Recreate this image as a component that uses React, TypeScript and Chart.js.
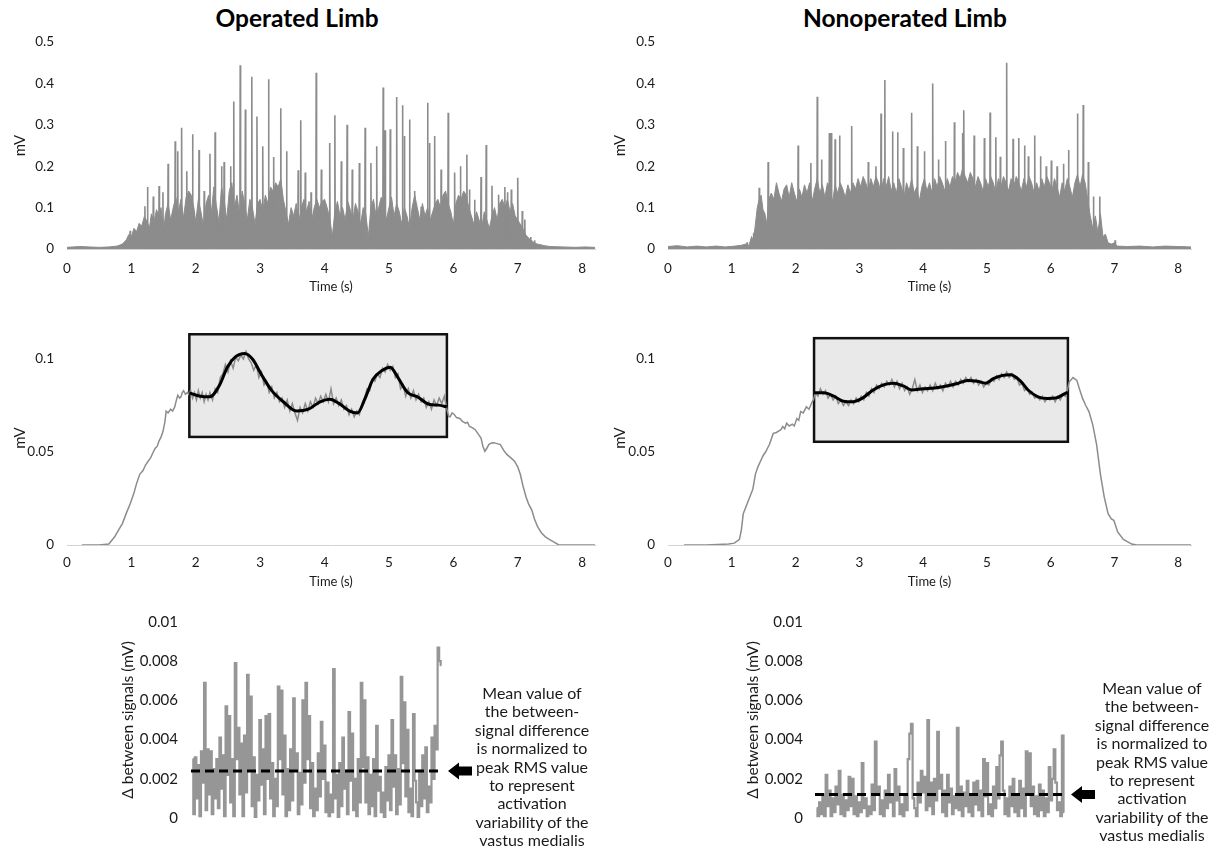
import React, { useEffect, useRef } from "react";
import { Chart, registerables } from "chart.js";

Chart.register(...registerables);

const FONT = "Lato, 'Open Sans', 'DejaVu Sans', sans-serif";
const GRAY = "#8c8c8c";
const TXT = "#1a1a1a";

// ---------- Top row: raw EMG (time s, mV) ----------
const opBody: [number, number][] = [
  [0, 0.004], [0.2, 0.006], [0.35, 0.005], [0.5, 0.004], [0.65, 0.005], [0.78, 0.007], [0.86, 0.012], [0.92, 0.022],
  [0.96, 0.035], [1.0, 0.03], [1.04, 0.05], [1.08, 0.042], [1.12, 0.062], [1.16, 0.055], [1.2, 0.078], [1.24, 0.068],
  [1.28, 0.05], [1.31, 0.085], [1.35, 0.065], [1.39, 0.095], [1.43, 0.08], [1.46, 0.1], [1.5, 0.045], [1.53, 0.085],
  [1.57, 0.11], [1.61, 0.07], [1.65, 0.1], [1.69, 0.125], [1.73, 0.09], [1.77, 0.12], [1.81, 0.075], [1.85, 0.125],
  [1.89, 0.14], [1.93, 0.13], [1.97, 0.1], [2.0, 0.065], [2.04, 0.12], [2.08, 0.09], [2.12, 0.055], [2.16, 0.11],
  [2.2, 0.13], [2.24, 0.085], [2.28, 0.15], [2.32, 0.105], [2.36, 0.065], [2.4, 0.15], [2.44, 0.12], [2.48, 0.07],
  [2.52, 0.14], [2.56, 0.16], [2.6, 0.1], [2.64, 0.13], [2.68, 0.085], [2.72, 0.14], [2.76, 0.11], [2.8, 0.07],
  [2.84, 0.12], [2.88, 0.1], [2.92, 0.06], [2.96, 0.11], [3.0, 0.12], [3.04, 0.09], [3.08, 0.13], [3.12, 0.11],
  [3.16, 0.15], [3.2, 0.14], [3.24, 0.16], [3.28, 0.15], [3.32, 0.17], [3.36, 0.12], [3.4, 0.09], [3.44, 0.06],
  [3.48, 0.1], [3.52, 0.08], [3.56, 0.11], [3.6, 0.065], [3.64, 0.1], [3.68, 0.12], [3.72, 0.09], [3.76, 0.115],
  [3.8, 0.07], [3.84, 0.1], [3.88, 0.12], [3.92, 0.1], [3.96, 0.115], [4.0, 0.12], [4.04, 0.1], [4.08, 0.075],
  [4.12, 0.03], [4.16, 0.09], [4.2, 0.115], [4.24, 0.08], [4.28, 0.1], [4.32, 0.07], [4.36, 0.115], [4.4, 0.095],
  [4.44, 0.07], [4.48, 0.11], [4.52, 0.09], [4.56, 0.06], [4.6, 0.1], [4.64, 0.085], [4.68, 0.03], [4.72, 0.1],
  [4.76, 0.12], [4.8, 0.08], [4.84, 0.1], [4.88, 0.125], [4.92, 0.11], [4.96, 0.07], [5.0, 0.1], [5.04, 0.125],
  [5.08, 0.08], [5.12, 0.11], [5.16, 0.09], [5.2, 0.06], [5.24, 0.1], [5.28, 0.08], [5.32, 0.05], [5.36, 0.1],
  [5.4, 0.13], [5.44, 0.1], [5.48, 0.07], [5.52, 0.11], [5.56, 0.08], [5.6, 0.1], [5.64, 0.07], [5.68, 0.09],
  [5.72, 0.11], [5.76, 0.12], [5.8, 0.1], [5.84, 0.13], [5.88, 0.14], [5.92, 0.11], [5.96, 0.09], [6.0, 0.06],
  [6.04, 0.11], [6.08, 0.13], [6.12, 0.12], [6.16, 0.14], [6.2, 0.13], [6.24, 0.1], [6.28, 0.08], [6.32, 0.06],
  [6.36, 0.09], [6.4, 0.07], [6.44, 0.05], [6.48, 0.09], [6.52, 0.07], [6.56, 0.05], [6.6, 0.08], [6.64, 0.1],
  [6.68, 0.07], [6.72, 0.11], [6.76, 0.12], [6.8, 0.1], [6.84, 0.12], [6.88, 0.09], [6.92, 0.11], [6.96, 0.08],
  [7.0, 0.07], [7.04, 0.06], [7.08, 0.05], [7.12, 0.035], [7.16, 0.028], [7.2, 0.022], [7.25, 0.016], [7.3, 0.012],
  [7.36, 0.01], [7.42, 0.008], [7.5, 0.006], [7.7, 0.005], [7.9, 0.004], [8.05, 0.005], [8.2, 0.004],
];

const opSpikes: [number, number][] = [
  [0.98, 0.044], [1.21, 0.103], [1.25, 0.15], [1.34, 0.127], [1.43, 0.152], [1.49, 0.137], [1.57, 0.206],
  [1.68, 0.26], [1.72, 0.236], [1.78, 0.293], [1.86, 0.188], [1.95, 0.277], [2.05, 0.239], [2.13, 0.14],
  [2.22, 0.23], [2.3, 0.282], [2.4, 0.2], [2.44, 0.21], [2.54, 0.2], [2.59, 0.356], [2.69, 0.444], [2.77, 0.337],
  [2.87, 0.416], [2.95, 0.32], [3.04, 0.248], [3.13, 0.41], [3.21, 0.222], [3.32, 0.34], [3.41, 0.236],
  [3.59, 0.19], [3.63, 0.311], [3.7, 0.185], [3.79, 0.137], [3.87, 0.426], [3.95, 0.192], [4.08, 0.256],
  [4.16, 0.323], [4.26, 0.212], [4.35, 0.3], [4.43, 0.192], [4.54, 0.208], [4.63, 0.293], [4.72, 0.208],
  [4.81, 0.248], [4.91, 0.39], [4.94, 0.287], [5.02, 0.289], [5.12, 0.367], [5.21, 0.347], [5.24, 0.273],
  [5.32, 0.313], [5.4, 0.14], [5.5, 0.102], [5.6, 0.353], [5.63, 0.256], [5.71, 0.273], [5.81, 0.192],
  [5.92, 0.329], [6.02, 0.185], [6.11, 0.2], [6.21, 0.228], [6.25, 0.144], [6.33, 0.119], [6.43, 0.174],
  [6.51, 0.251], [6.6, 0.153], [6.7, 0.131], [6.8, 0.15], [6.84, 0.137], [6.9, 0.144], [7.0, 0.172],
  [7.07, 0.092], [7.11, 0.071], [7.2, 0.029], [7.26, 0.021],
];

const nonBody: [number, number][] = [
  [0, 0.006], [0.15, 0.008], [0.3, 0.005], [0.45, 0.007], [0.6, 0.005], [0.75, 0.007], [0.9, 0.005], [1.05, 0.007],
  [1.15, 0.009], [1.22, 0.012], [1.27, 0.008], [1.31, 0.03], [1.34, 0.02], [1.37, 0.06], [1.4, 0.1], [1.43, 0.12],
  [1.46, 0.13], [1.49, 0.095], [1.52, 0.085], [1.55, 0.06], [1.58, 0.12], [1.62, 0.135], [1.66, 0.12], [1.7, 0.16],
  [1.74, 0.135], [1.78, 0.115], [1.82, 0.145], [1.86, 0.155], [1.9, 0.125], [1.94, 0.16], [1.98, 0.135], [2.02, 0.115],
  [2.06, 0.145], [2.1, 0.125], [2.14, 0.155], [2.18, 0.135], [2.22, 0.16], [2.26, 0.115], [2.3, 0.145], [2.34, 0.17],
  [2.38, 0.135], [2.42, 0.155], [2.46, 0.125], [2.5, 0.16], [2.54, 0.145], [2.58, 0.115], [2.62, 0.155], [2.66, 0.135],
  [2.7, 0.16], [2.74, 0.145], [2.78, 0.125], [2.82, 0.155], [2.86, 0.135], [2.9, 0.16], [2.94, 0.145], [2.98, 0.17],
  [3.02, 0.15], [3.06, 0.175], [3.1, 0.16], [3.14, 0.14], [3.18, 0.17], [3.22, 0.15], [3.26, 0.175], [3.3, 0.16],
  [3.34, 0.135], [3.38, 0.17], [3.42, 0.15], [3.46, 0.175], [3.5, 0.14], [3.54, 0.16], [3.58, 0.135], [3.62, 0.17],
  [3.66, 0.15], [3.7, 0.125], [3.74, 0.16], [3.78, 0.14], [3.82, 0.17], [3.86, 0.135], [3.9, 0.15], [3.94, 0.115],
  [3.98, 0.15], [4.02, 0.17], [4.06, 0.14], [4.1, 0.16], [4.14, 0.135], [4.18, 0.17], [4.22, 0.15], [4.26, 0.175],
  [4.3, 0.16], [4.34, 0.14], [4.38, 0.17], [4.42, 0.15], [4.46, 0.175], [4.5, 0.16], [4.54, 0.185], [4.58, 0.17],
  [4.62, 0.195], [4.66, 0.175], [4.7, 0.16], [4.74, 0.185], [4.78, 0.17], [4.82, 0.15], [4.86, 0.175], [4.9, 0.16],
  [4.94, 0.14], [4.98, 0.17], [5.02, 0.15], [5.06, 0.175], [5.1, 0.16], [5.14, 0.135], [5.18, 0.17], [5.22, 0.15],
  [5.26, 0.175], [5.3, 0.16], [5.34, 0.14], [5.38, 0.17], [5.42, 0.15], [5.46, 0.175], [5.5, 0.16], [5.54, 0.14],
  [5.58, 0.17], [5.62, 0.15], [5.66, 0.175], [5.7, 0.16], [5.74, 0.135], [5.78, 0.16], [5.82, 0.14], [5.86, 0.17],
  [5.9, 0.15], [5.94, 0.175], [5.98, 0.16], [6.02, 0.14], [6.06, 0.17], [6.1, 0.15], [6.14, 0.125], [6.18, 0.16],
  [6.22, 0.14], [6.26, 0.17], [6.3, 0.15], [6.34, 0.125], [6.38, 0.16], [6.42, 0.18], [6.46, 0.15], [6.5, 0.18],
  [6.54, 0.16], [6.58, 0.12], [6.62, 0.08], [6.66, 0.05], [6.7, 0.08], [6.74, 0.04], [6.78, 0.085], [6.82, 0.03],
  [6.86, 0.035], [6.9, 0.015], [6.95, 0.012], [7.0, 0.015], [7.04, 0.007], [7.2, 0.006], [7.4, 0.007], [7.6, 0.005],
  [7.8, 0.007], [8.0, 0.006], [8.2, 0.005],
];

const nonSpikes: [number, number][] = [
  [1.24, 0.016], [1.34, 0.039], [1.43, 0.148], [1.57, 0.21], [2.04, 0.25], [2.24, 0.208], [2.34, 0.368],
  [2.41, 0.216], [2.53, 0.28], [2.56, 0.28], [2.62, 0.265], [2.69, 0.274], [2.88, 0.297], [3.14, 0.21],
  [3.26, 0.2], [3.34, 0.327], [3.4, 0.408], [3.52, 0.284], [3.6, 0.282], [3.69, 0.244], [3.82, 0.329],
  [3.91, 0.248], [4.02, 0.236], [4.15, 0.4], [4.24, 0.216], [4.35, 0.261], [4.49, 0.306], [4.62, 0.28],
  [4.64, 0.335], [4.8, 0.274], [4.96, 0.268], [5.05, 0.33], [5.14, 0.27], [5.21, 0.223], [5.31, 0.45],
  [5.41, 0.266], [5.5, 0.268], [5.59, 0.25], [5.65, 0.224], [5.75, 0.274], [5.84, 0.224], [5.93, 0.2],
  [6.01, 0.214], [6.1, 0.2], [6.2, 0.206], [6.28, 0.239], [6.42, 0.327], [6.51, 0.348], [6.59, 0.21],
  [6.67, 0.127], [6.77, 0.127], [6.85, 0.035], [7.01, 0.021],
];

// ---------- Middle row: RMS envelope (time s, mV) ----------
const opRms: [number, number][] = [
  [0.23, 0], [0.5, 0], [0.65, 0.0005], [0.74, 0.0044], [0.8, 0.008], [0.86, 0.0115], [0.92, 0.017], [0.98, 0.022],
  [1.04, 0.028], [1.08, 0.033], [1.13, 0.038], [1.18, 0.04], [1.22, 0.043], [1.26, 0.045], [1.3, 0.047], [1.34, 0.05],
  [1.37, 0.052], [1.4, 0.053], [1.43, 0.056], [1.46, 0.058], [1.49, 0.061], [1.52, 0.066], [1.54, 0.072], [1.57, 0.071],
  [1.61, 0.073], [1.64, 0.072], [1.67, 0.074], [1.7, 0.078], [1.72, 0.0805], [1.75, 0.079], [1.77, 0.0797], [1.79, 0.082],
  [1.81, 0.083], [1.84, 0.081], [1.87, 0.082], [1.89, 0.081],
  [1.92, 0.083], [1.95, 0.079], [1.98, 0.082], [2.01, 0.078], [2.04, 0.083], [2.07, 0.079], [2.1, 0.082], [2.13, 0.077],
  [2.16, 0.081], [2.19, 0.078], [2.22, 0.082], [2.26, 0.078], [2.3, 0.084], [2.34, 0.082], [2.38, 0.09], [2.42, 0.092],
  [2.46, 0.097], [2.5, 0.093], [2.54, 0.099], [2.58, 0.095], [2.62, 0.101], [2.66, 0.099], [2.7, 0.102], [2.74, 0.1],
  [2.78, 0.104], [2.82, 0.1], [2.86, 0.098], [2.9, 0.094], [2.94, 0.097], [2.98, 0.09], [3.02, 0.093], [3.06, 0.086],
  [3.1, 0.088], [3.14, 0.082], [3.18, 0.085], [3.22, 0.079], [3.26, 0.082], [3.3, 0.077], [3.34, 0.079], [3.38, 0.074],
  [3.42, 0.078], [3.46, 0.072], [3.5, 0.076], [3.54, 0.071], [3.58, 0.067], [3.62, 0.074], [3.66, 0.071], [3.7, 0.076],
  [3.74, 0.072], [3.78, 0.077], [3.82, 0.074], [3.86, 0.079], [3.9, 0.076], [3.94, 0.08], [3.98, 0.077], [4.02, 0.081],
  [4.06, 0.077], [4.1, 0.084], [4.14, 0.076], [4.18, 0.079], [4.22, 0.075], [4.26, 0.078], [4.3, 0.073], [4.34, 0.075],
  [4.38, 0.07], [4.42, 0.073], [4.46, 0.069], [4.5, 0.072], [4.54, 0.07], [4.58, 0.076], [4.62, 0.079], [4.66, 0.084],
  [4.7, 0.083], [4.74, 0.089], [4.78, 0.088], [4.82, 0.092], [4.86, 0.09], [4.9, 0.095], [4.94, 0.093], [4.98, 0.097],
  [5.02, 0.094], [5.06, 0.096], [5.1, 0.09], [5.14, 0.092], [5.18, 0.084], [5.22, 0.086], [5.26, 0.08], [5.3, 0.084],
  [5.34, 0.079], [5.38, 0.083], [5.42, 0.078], [5.46, 0.081], [5.5, 0.077], [5.54, 0.079], [5.58, 0.074], [5.62, 0.077],
  [5.66, 0.073], [5.7, 0.078], [5.74, 0.075], [5.78, 0.079], [5.82, 0.076], [5.86, 0.08], [5.9, 0.073], [5.93, 0.069],
  [5.95, 0.069], [5.98, 0.071], [6.01, 0.0703], [6.05, 0.0685], [6.1, 0.068], [6.14, 0.0665], [6.19, 0.0655],
  [6.22, 0.066], [6.25, 0.0637], [6.3, 0.063], [6.34, 0.062], [6.38, 0.06], [6.43, 0.0575], [6.46, 0.053],
  [6.49, 0.0504], [6.52, 0.052], [6.55, 0.054], [6.6, 0.055], [6.64, 0.0549], [6.68, 0.0545], [6.73, 0.054],
  [6.78, 0.051], [6.83, 0.0487], [6.89, 0.047], [6.95, 0.0451], [7.0, 0.042], [7.04, 0.038], [7.08, 0.032],
  [7.13, 0.0257], [7.17, 0.022], [7.22, 0.0186], [7.26, 0.014], [7.31, 0.0097], [7.37, 0.0065], [7.43, 0.0044],
  [7.49, 0.003], [7.55, 0.0018], [7.64, 0], [8.2, 0],
];

const opSmooth: [number, number][] = [
  [1.9, 0.0818], [2.07, 0.08], [2.22, 0.0797], [2.37, 0.086], [2.49, 0.0956], [2.61, 0.101], [2.76, 0.103],
  [2.88, 0.1], [3.03, 0.091], [3.18, 0.083], [3.36, 0.077], [3.57, 0.072], [3.75, 0.073], [3.93, 0.077],
  [4.08, 0.0784], [4.23, 0.076], [4.39, 0.072], [4.51, 0.071], [4.63, 0.0788], [4.75, 0.089], [4.9, 0.094],
  [5.02, 0.0956], [5.14, 0.09], [5.29, 0.082], [5.44, 0.0797], [5.62, 0.0757], [5.77, 0.0752], [5.9, 0.0743],
];

const nonRms: [number, number][] = [
  [0.25, 0], [0.6, 0], [0.95, 0.0005], [1.04, 0.001], [1.12, 0.003], [1.15, 0.008], [1.18, 0.0168], [1.25, 0.023],
  [1.33, 0.03], [1.37, 0.038], [1.41, 0.042], [1.45, 0.045], [1.49, 0.048], [1.53, 0.05], [1.56, 0.052], [1.59, 0.054],
  [1.62, 0.057], [1.65, 0.06], [1.7, 0.0605], [1.74, 0.0614], [1.77, 0.062], [1.8, 0.0637], [1.83, 0.0625],
  [1.86, 0.0655], [1.9, 0.064], [1.95, 0.065], [1.98, 0.064], [2.02, 0.068], [2.05, 0.067], [2.08, 0.0717],
  [2.12, 0.071], [2.17, 0.0743], [2.21, 0.073], [2.26, 0.077],
  [2.28, 0.078], [2.31, 0.082], [2.35, 0.08], [2.39, 0.084], [2.43, 0.081], [2.47, 0.083], [2.51, 0.079], [2.55, 0.081],
  [2.59, 0.078], [2.63, 0.08], [2.67, 0.076], [2.71, 0.078], [2.75, 0.075], [2.79, 0.077], [2.83, 0.075], [2.87, 0.078],
  [2.91, 0.076], [2.95, 0.079], [2.99, 0.077], [3.03, 0.08], [3.07, 0.078], [3.11, 0.082], [3.15, 0.08], [3.19, 0.084],
  [3.23, 0.082], [3.27, 0.086], [3.31, 0.084], [3.35, 0.087], [3.39, 0.085], [3.43, 0.088], [3.47, 0.086], [3.51, 0.089],
  [3.55, 0.085], [3.59, 0.088], [3.63, 0.084], [3.67, 0.087], [3.71, 0.083], [3.75, 0.085], [3.79, 0.081], [3.83, 0.084],
  [3.87, 0.089], [3.91, 0.083], [3.95, 0.086], [3.99, 0.082], [4.03, 0.085], [4.07, 0.083], [4.11, 0.086], [4.15, 0.083],
  [4.19, 0.087], [4.23, 0.084], [4.27, 0.086], [4.31, 0.083], [4.35, 0.087], [4.39, 0.085], [4.43, 0.088], [4.47, 0.085],
  [4.51, 0.088], [4.55, 0.086], [4.59, 0.089], [4.63, 0.087], [4.67, 0.09], [4.71, 0.088], [4.75, 0.09], [4.79, 0.087],
  [4.83, 0.089], [4.87, 0.086], [4.91, 0.088], [4.95, 0.085], [4.99, 0.087], [5.03, 0.086], [5.07, 0.089], [5.11, 0.088],
  [5.15, 0.091], [5.19, 0.089], [5.23, 0.092], [5.27, 0.09], [5.31, 0.093], [5.35, 0.09], [5.39, 0.092], [5.43, 0.089],
  [5.47, 0.09], [5.51, 0.086], [5.55, 0.087], [5.59, 0.083], [5.63, 0.084], [5.67, 0.081], [5.71, 0.082], [5.75, 0.079],
  [5.79, 0.08], [5.83, 0.078], [5.87, 0.08], [5.91, 0.077], [5.95, 0.079], [5.99, 0.078], [6.03, 0.08], [6.07, 0.077],
  [6.11, 0.08], [6.15, 0.078], [6.19, 0.081], [6.23, 0.08], [6.26, 0.083],
  [6.29, 0.0876], [6.35, 0.09], [6.41, 0.0885], [6.45, 0.084], [6.5, 0.0788], [6.55, 0.075], [6.6, 0.0717],
  [6.66, 0.0646], [6.72, 0.054], [6.78, 0.038], [6.84, 0.0257], [6.9, 0.0168], [6.95, 0.014], [6.99, 0.0133],
  [7.05, 0.007], [7.14, 0.003], [7.27, 0.0005], [7.35, 0], [8.2, 0],
];

const nonSmooth: [number, number][] = [
  [2.29, 0.0818], [2.44, 0.0818], [2.6, 0.08], [2.75, 0.0773], [2.9, 0.077], [3.05, 0.079], [3.21, 0.0832],
  [3.39, 0.0862], [3.54, 0.087], [3.69, 0.0855], [3.82, 0.0834], [4.0, 0.084], [4.18, 0.0844], [4.37, 0.0855],
  [4.52, 0.0867], [4.7, 0.0885], [4.85, 0.088], [4.98, 0.087], [5.1, 0.0894], [5.25, 0.0912], [5.37, 0.0915],
  [5.53, 0.088], [5.65, 0.0832], [5.8, 0.0797], [5.95, 0.0788], [6.08, 0.079], [6.23, 0.0815], [6.27, 0.082],
];

// analysed window (s, mV) shown as the shaded box
const opWindow = { t0: 1.9, t1: 5.9, v0: 0.0581, v1: 0.1133 };
const nonWindow = { t0: 2.29, t1: 6.27, v0: 0.0555, v1: 0.1112 };

// ---------- Bottom row: difference between signals (mV) ----------
const opDiff: number[] = [
  0.003, 0.0002, 0.0031, 0.001, 0.0027, 0.0001, 0.0034, 0.0018, 0.0069, 0.0004, 0.0035, 0.0012, 0.0034, 0.0002,
  0.0025, 0.001, 0.003, 0.0005, 0.0041, 0.0015, 0.0032, 0.0001, 0.0057, 0.0022, 0.0052, 0.0008, 0.003, 0.0001,
  0.0079, 0.003, 0.0046, 0.0012, 0.0038, 0.0001, 0.0042, 0.0013, 0.0073, 0.0025, 0.0062, 0.0006, 0.0031, 0.0,
  0.0022, 0.0009, 0.005, 0.0017, 0.0035, 0.0002, 0.0052, 0.002, 0.0053, 0.001, 0.0028, 0.0001, 0.002, 0.0006,
  0.0067, 0.003, 0.0065, 0.0012, 0.0042, 0.0001, 0.0025, 0.0004, 0.0035, 0.0009, 0.0061, 0.0024, 0.0033, 0.0002,
  0.0023, 0.0007, 0.006, 0.0018, 0.0069, 0.003, 0.0052, 0.0005, 0.0028, 0.0001, 0.0015, 0.0004, 0.0033, 0.0011,
  0.0049, 0.002, 0.0037, 0.0003, 0.0018, 0.0001, 0.0012, 0.0003, 0.0076, 0.001, 0.0022, 0.0, 0.0028, 0.0006,
  0.0041, 0.0015, 0.0024, 0.0002, 0.0054, 0.0019, 0.0043, 0.0004, 0.002, 0.0001, 0.003, 0.0008, 0.0069, 0.0026,
  0.006, 0.0008, 0.0031, 0.0002, 0.0022, 0.0006, 0.003, 0.0001, 0.0047, 0.0014, 0.0021, 0.0003, 0.0013, 0.0,
  0.0026, 0.0009, 0.0032, 0.0004, 0.005, 0.0016, 0.0032, 0.0002, 0.0025, 0.0007, 0.0072, 0.0028, 0.0059, 0.0011,
  0.0045, 0.0003, 0.0015, 0.0001, 0.0053, 0.0019, 0.0008, 0.0, 0.0024, 0.0006, 0.0032, 0.001, 0.0036, 0.0003,
  0.0016, 0.0008, 0.0041, 0.002, 0.0047, 0.0035, 0.0087, 0.008, 0.0078,
];
const opMean = 0.0024;

const nonDiff: number[] = [
  0.0005, 0.0001, 0.0008, 0.0002, 0.0012, 0.0001, 0.0022, 0.0006, 0.0014, 0.0001, 0.001, 0.0003, 0.0016, 0.0007,
  0.0024, 0.0002, 0.0012, 0.0001, 0.0009, 0.0004, 0.0021, 0.0006, 0.002, 0.0002, 0.0011, 0.0001, 0.0008, 0.0003,
  0.0028, 0.0005, 0.001, 0.0001, 0.0006, 0.0002, 0.0017, 0.0004, 0.0039, 0.0012, 0.0016, 0.0002, 0.0009, 0.0001,
  0.0014, 0.0005, 0.0022, 0.0008, 0.0011, 0.0001, 0.0025, 0.0009, 0.0016, 0.0002, 0.0007, 0.0001, 0.0012, 0.0004,
  0.003, 0.0043, 0.0048, 0.001, 0.0005, 0.0001, 0.0018, 0.0008, 0.0024, 0.0013, 0.0021, 0.0004, 0.005, 0.0006,
  0.0018, 0.0002, 0.002, 0.0009, 0.0044, 0.0015, 0.0022, 0.0003, 0.0014, 0.0001, 0.0022, 0.0008, 0.0015, 0.0002,
  0.0011, 0.0005, 0.0046, 0.0004, 0.0016, 0.0001, 0.0013, 0.0006, 0.0019, 0.0003, 0.0012, 0.0001, 0.0018, 0.0007,
  0.0019, 0.0004, 0.0014, 0.0001, 0.003, 0.0011, 0.0028, 0.0002, 0.0007, 0.0001, 0.0016, 0.0005, 0.0026, 0.001,
  0.0032, 0.0039, 0.0014, 0.0002, 0.001, 0.0001, 0.0016, 0.0006, 0.002, 0.0003, 0.0012, 0.0001, 0.0019, 0.0005,
  0.0015, 0.0001, 0.0034, 0.0013, 0.0033, 0.0006, 0.0016, 0.0002, 0.0011, 0.0001, 0.0017, 0.0004, 0.0014, 0.0001,
  0.001, 0.0003, 0.0026, 0.0009, 0.002, 0.0035, 0.0018, 0.0004, 0.0008, 0.0001, 0.0042, 0.0003,
];
const nonMean = 0.0012;

const noteLines = [
  "Mean value of",
  "the between-",
  "signal difference",
  "is normalized to",
  "peak RMS value",
  "to represent",
  "activation",
  "variability of the",
  "vastus medialis",
];

// ---------- helpers ----------
const pts = (arr: [number, number][]) => arr.map(([x, y]) => ({ x, y }));
const spikePts = (arr: [number, number][]) =>
  arr.flatMap(([t, v]) => [
    { x: t - 0.006, y: 0 },
    { x: t, y: v },
    { x: t + 0.006, y: 0 },
  ]);
const fmt = (v: number) => String(Number(Number(v).toFixed(4)));

function timeAxis(axisH: number, tickPad: number) {
  return {
    type: "linear",
    min: 0,
    max: 8.2,
    ticks: {
      stepSize: 1,
      includeBounds: false,
      autoSkip: false,
      maxRotation: 0,
      padding: tickPad,
      color: TXT,
      font: { family: FONT, size: 13.5 },
      callback: (v: number) => fmt(v),
    },
    grid: { display: false, drawTicks: false },
    border: { display: true, color: "#d2d2d2", width: 1 },
    title: {
      display: true,
      text: "Time (s)",
      color: TXT,
      font: { family: FONT, size: 13 },
      padding: { top: 0, bottom: 4 },
    },
    afterFit: (s: any) => {
      s.height = axisH;
    },
  };
}

function valueAxis(max: number, step: number, width: number, title: string, titleSize: number, titleOffset: number, tickSize: number, tickPad: number) {
  const lh = titleSize * 1.2;
  return {
    type: "linear",
    min: 0,
    max,
    ticks: {
      stepSize: step,
      includeBounds: false,
      padding: tickPad,
      color: TXT,
      font: { family: FONT, size: tickSize },
      callback: (v: number) => fmt(v),
    },
    grid: { display: false, drawTicks: false },
    border: { display: false },
    title: {
      display: true,
      text: title,
      color: TXT,
      font: { family: FONT, size: titleSize },
      padding: { top: titleOffset - lh / 2, bottom: 0 },
    },
    afterFit: (s: any) => {
      s.width = width;
    },
  };
}

const windowPlugin = (w: { t0: number; t1: number; v0: number; v1: number }) => ({
  id: "analysisWindow",
  beforeDatasetsDraw(chart: any) {
    const { ctx, scales } = chart;
    const L = scales.x.getPixelForValue(w.t0);
    const R = scales.x.getPixelForValue(w.t1);
    const T = scales.y.getPixelForValue(w.v1);
    const B = scales.y.getPixelForValue(w.v0);
    ctx.save();
    ctx.fillStyle = "#e9e9e9";
    ctx.fillRect(L, T, R - L, B - T);
    ctx.lineWidth = 2.5;
    ctx.strokeStyle = "#111";
    ctx.strokeRect(L, T, R - L, B - T);
    ctx.restore();
  },
});

const arrowPlugin = (mean: number) => ({
  id: "meanArrow",
  afterDraw(chart: any) {
    const { ctx, chartArea, scales } = chart;
    const py = scales.y.getPixelForValue(mean);
    const tip = chartArea.right + 5;
    ctx.save();
    ctx.fillStyle = "#000";
    ctx.beginPath();
    ctx.moveTo(tip, py);
    ctx.lineTo(tip + 11, py - 8.5);
    ctx.lineTo(tip + 11, py - 4.5);
    ctx.lineTo(tip + 24, py - 4.5);
    ctx.lineTo(tip + 24, py + 4.5);
    ctx.lineTo(tip + 11, py + 4.5);
    ctx.lineTo(tip + 11, py + 8.5);
    ctx.closePath();
    ctx.fill();
    ctx.restore();
  },
});

function emgConfig(body: [number, number][], spikes: [number, number][], yWidth: number, pad: any) {
  return {
    type: "line",
    data: {
      datasets: [
        {
          data: spikePts(spikes),
          borderColor: GRAY,
          borderWidth: 1.6,
          pointRadius: 0,
          fill: false,
          tension: 0,
        },
        {
          data: pts(body),
          borderColor: GRAY,
          backgroundColor: GRAY,
          borderWidth: 1,
          pointRadius: 0,
          fill: "origin",
          tension: 0,
        },
      ],
    },
    options: {
      animation: false,
      responsive: false,
      devicePixelRatio: 1,
      layout: { padding: pad },
      plugins: { legend: { display: false }, tooltip: { enabled: false } },
      scales: {
        x: timeAxis(50, 12),
        y: valueAxis(0.5, 0.1, yWidth, "mV", 15, 20, 13.5, 13),
      },
    },
  };
}

function rmsConfig(raw: [number, number][], smooth: [number, number][], win: any, yWidth: number, pad: any) {
  return {
    type: "line",
    data: {
      datasets: [
        {
          data: pts(smooth),
          borderColor: "#000",
          borderWidth: 3,
          pointRadius: 0,
          fill: false,
          cubicInterpolationMode: "monotone",
        },
        {
          data: pts(raw),
          borderColor: GRAY,
          borderWidth: 1.5,
          pointRadius: 0,
          fill: false,
          tension: 0,
        },
      ],
    },
    options: {
      animation: false,
      responsive: false,
      devicePixelRatio: 1,
      layout: { padding: pad },
      plugins: { legend: { display: false }, tooltip: { enabled: false } },
      scales: {
        x: timeAxis(49, 10),
        y: valueAxis(0.115, 0.05, yWidth, "mV", 15, 20, 13.5, 13),
      },
    },
    plugins: [windowPlugin(win)],
  };
}

function diffConfig(values: number[], mean: number, yWidth: number, titleOffset: number, tickPad: number, pad: any) {
  const n = values.length;
  return {
    type: "line",
    data: {
      datasets: [
        {
          data: [
            { x: -1, y: mean },
            { x: n, y: mean },
          ],
          borderColor: "#000",
          borderWidth: 3,
          borderDash: [9, 5],
          pointRadius: 0,
          fill: false,
        },
        {
          data: values.map((v, i) => ({ x: i, y: v })),
          borderColor: "#969696",
          borderWidth: 2.2,
          pointRadius: 0,
          fill: false,
          stepped: "middle",
        },
      ],
    },
    options: {
      animation: false,
      responsive: false,
      devicePixelRatio: 1,
      layout: { padding: pad },
      plugins: { legend: { display: false }, tooltip: { enabled: false } },
      scales: {
        x: { type: "linear", display: false, min: -1, max: n },
        y: valueAxis(0.01, 0.002, yWidth, "Δ between signals (mV)", 15.5, titleOffset, 15, tickPad),
      },
    },
    plugins: [arrowPlugin(mean)],
  };
}

function ChartCanvas({ left, top, width, height, config }: any) {
  const ref = useRef<HTMLCanvasElement>(null);
  useEffect(() => {
    const chart = new Chart(ref.current as HTMLCanvasElement, config);
    return () => chart.destroy();
  }, []);
  return (
    <canvas
      ref={ref}
      width={width}
      height={height}
      style={{ position: "absolute", left, top, width, height, display: "block" }}
    />
  );
}

function Note({ cx, top }: { cx: number; top: number }) {
  return (
    <div
      style={{
        position: "absolute",
        left: cx - 70,
        top,
        width: 140,
        textAlign: "center",
        fontFamily: FONT,
        fontSize: 16,
        lineHeight: "18.4px",
        color: TXT,
      }}
    >
      {noteLines.map((l, i) => (
        <div key={i}>{l}</div>
      ))}
    </div>
  );
}

function Title({ cx, text }: { cx: number; text: string }) {
  return (
    <div
      style={{
        position: "absolute",
        left: cx - 150,
        top: 4,
        width: 300,
        textAlign: "center",
        fontFamily: FONT,
        fontWeight: 700,
        fontSize: 24.5,
        lineHeight: "28px",
        color: "#000",
      }}
    >
      {text}
    </div>
  );
}

export default function App() {
  return (
    <div
      style={{
        position: "absolute",
        left: 0,
        top: 0,
        width: 1209,
        height: 849,
        background: "#fff",
        overflow: "hidden",
      }}
    >
      <Title cx={297} text="Operated Limb" />
      <Title cx={905} text="Nonoperated Limb" />

      <ChartCanvas left={0} top={0} width={600} height={310}
        config={emgConfig(opBody, opSpikes, 67, { top: 42, right: 5, bottom: 11, left: 0 })} />
      <ChartCanvas left={600} top={0} width={609} height={310}
        config={emgConfig(nonBody, nonSpikes, 68, { top: 42, right: 18, bottom: 11, left: 0 })} />

      <ChartCanvas left={0} top={310} width={600} height={290}
        config={rmsConfig(opRms, opSmooth, opWindow, 67, { top: 18.8, right: 5, bottom: 6, left: 0 })} />
      <ChartCanvas left={600} top={310} width={609} height={290}
        config={rmsConfig(nonRms, nonSmooth, nonWindow, 68, { top: 18.8, right: 18, bottom: 6, left: 0 })} />

      <ChartCanvas left={100} top={600} width={380} height={249}
        config={diffConfig(opDiff, opMean, 91, 28, 13, { top: 22, right: 37, bottom: 31, left: 0 })} />
      <ChartCanvas left={720} top={600} width={400} height={249}
        config={diffConfig(nonDiff, nonMean, 95, 33, 12, { top: 22, right: 54, bottom: 31, left: 0 })} />

      <Note cx={532} top={684} />
      <Note cx={1152} top={679} />
    </div>
  );
}
